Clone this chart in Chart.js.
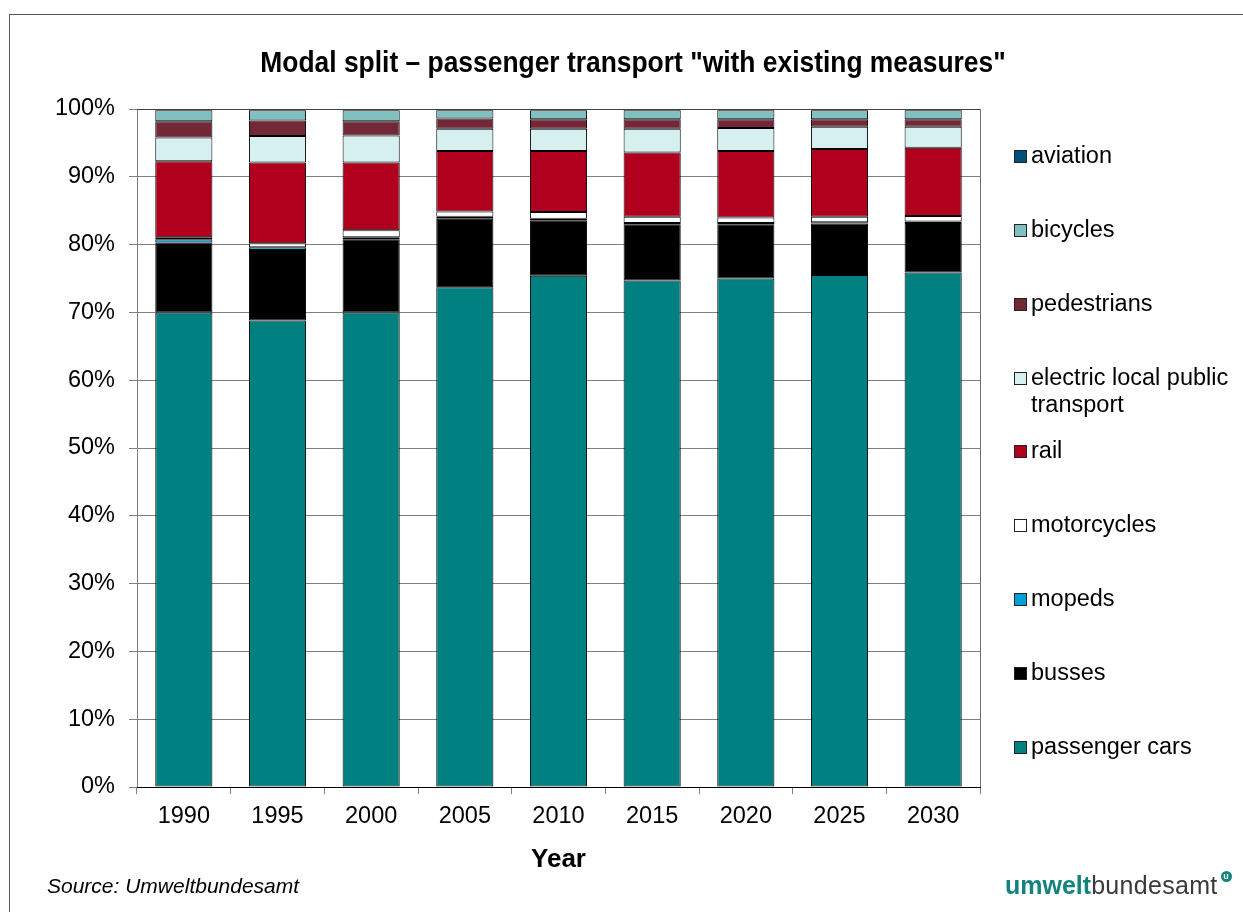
<!DOCTYPE html>
<html><head><meta charset="utf-8">
<script src="https://cdn.jsdelivr.net/npm/chart.js@4.4.0/dist/chart.umd.min.js"></script>
<style>
html,body{margin:0;padding:0;background:#fff;}
#wrap{position:relative;width:1243px;height:912px;overflow:hidden;font-family:'Liberation Sans',Arial,sans-serif;color:#000;}
#frame{position:absolute;left:9px;top:14px;width:1400px;height:1000px;border:1px solid #555;box-sizing:border-box;}
#c{position:absolute;left:0;top:0;}
#title{position:absolute;left:633px;top:46px;font-weight:bold;font-size:30px;line-height:32px;white-space:nowrap;transform:translateX(-50%) scaleX(0.88);}
#legend{position:absolute;left:0;top:0;}
.li{position:absolute;left:1014px;font-size:23.5px;line-height:27px;white-space:nowrap;}
.mk{position:absolute;left:0;top:8px;width:11px;height:11px;border:1px solid #222;}
.tx{position:absolute;left:17px;top:0;}
#source{position:absolute;left:47px;top:873px;font-style:italic;font-size:21px;line-height:26px;}
#logo{position:absolute;left:1005px;top:870px;font-size:25px;line-height:30px;white-space:nowrap;}
#logo .a{color:#12837d;font-weight:bold;}
#logo .b{color:#3a3a3a;font-weight:normal;letter-spacing:0.3px;}
#logo .c{display:inline-block;width:11px;height:11px;border-radius:50%;background:#12837d;color:#fff;font-size:9px;line-height:11px;text-align:center;vertical-align:top;margin-left:3px;margin-top:1px;font-weight:bold;}
</style></head>
<body>
<div id="wrap">
  <div id="frame"></div>
  <canvas id="c" width="1243" height="912"></canvas>
  <div id="title">Modal split – passenger transport "with existing measures"</div>
  <div id="legend"></div>
  <div id="source">Source: Umweltbundesamt</div>
  <div id="logo"><span class="a">umwelt</span><span class="b">bundesamt</span><span class="c">u</span></div>
</div>
<script>
const years = ['1990','1995','2000','2005','2010','2015','2020','2025','2030'];
const passengerCars = [70.0, 68.8, 70.0, 73.7, 75.4, 74.7, 75.0, 75.5, 75.9];
const busses        = [10.3, 10.4, 10.8, 10.1,  8.2,  8.3,  8.0,  7.6,  7.3];
const mopeds        = [ 0.5,  0.4,  0.3,  0.3,  0.2,  0.2,  0.2,  0.2,  0.2];
const motorcycles   = [ 0.3,  0.6,  1.0,  0.8,  1.0,  0.9,  0.8,  0.8,  0.8];
const rail          = [11.2, 11.9, 10.0,  8.9,  9.0,  9.5,  9.8, 10.0, 10.1];
const electricLocal = [ 3.5,  3.9,  4.0,  3.3,  3.3,  3.5,  3.4,  3.3,  3.1];
const pedestrians   = [ 2.4,  2.3,  2.1,  1.5,  1.4,  1.4,  1.3,  1.1,  1.1];
const bicycles      = [ 1.6,  1.5,  1.6,  1.2,  1.3,  1.3,  1.3,  1.3,  1.3];
const aviation      = [ 0.2,  0.2,  0.2,  0.2,  0.2,  0.2,  0.2,  0.2,  0.2];
const yTickValues = [0,10,20,30,40,50,60,70,80,90,100];

const seriesNames = ['passenger cars','busses','mopeds','motorcycles','rail','electric local public transport','pedestrians','bicycles','aviation'];
const legendLines = [['passenger cars'],['busses'],['mopeds'],['motorcycles'],['rail'],['electric local public','transport'],['pedestrians'],['bicycles'],['aviation']];
const seriesData = [passengerCars,busses,mopeds,motorcycles,rail,electricLocal,pedestrians,bicycles,aviation];
const seriesColors = ['#008080','#000000','#00A0DC','#FFFFFF','#B0001E','#D6EFEF','#722837','#80C0C0','#00507A'];

const datasets = seriesNames.map((n,i)=>({
  label:n, data:seriesData[i], backgroundColor:seriesColors[i],
  borderColor:'#000', borderWidth:1, borderSkipped:false,
  barPercentage:0.61, categoryPercentage:1.0
}));

const plotBorder = {
  id:'plotBorder',
  afterDraw(chart){
    const a = chart.chartArea, ctx = chart.ctx;
    ctx.save();
    ctx.strokeStyle = '#707070'; ctx.lineWidth = 1;
    ctx.beginPath();
    ctx.moveTo(Math.round(a.right)+0.5, a.top);
    ctx.lineTo(Math.round(a.right)+0.5, a.bottom);
    ctx.stroke();
    ctx.strokeStyle = '#404040';
    ctx.beginPath();
    ctx.moveTo(a.left, Math.round(a.top)+0.5);
    ctx.lineTo(a.right, Math.round(a.top)+0.5);
    ctx.stroke();
    ctx.strokeStyle = '#000';
    ctx.beginPath();
    ctx.moveTo(a.left, Math.round(a.bottom)+0.5);
    ctx.lineTo(a.right, Math.round(a.bottom)+0.5);
    ctx.stroke();
    ctx.restore();
  }
};

Chart.defaults.font.family = "'Liberation Sans', Arial, sans-serif";
Chart.defaults.color = '#000';

new Chart(document.getElementById('c'), {
  type:'bar',
  data:{labels:years, datasets},
  options:{
    responsive:false, animation:false,
    layout:{padding:{left:0, top:109, right:263, bottom:37}},
    plugins:{legend:{display:false}, title:{display:false}, tooltip:{enabled:false}},
    scales:{
      x:{
        stacked:true,
        grid:{display:true, drawOnChartArea:false, drawTicks:true, tickLength:7, offset:true, color:'#808080'},
        border:{display:true, color:'#000'},
        ticks:{font:{size:23.5}, padding:8, color:'#000', maxRotation:0},
        title:{display:true, text:'Year', font:{size:26, weight:'bold'}, padding:{top:0,bottom:0}, color:'#000'},
        afterFit(s){ s.height = 88; }
      },
      y:{
        stacked:true, min:0, max:100,
        afterBuildTicks(s){ s.ticks = yTickValues.map(v=>({value:v})); },
        grid:{color:'#808080', tickLength:8, drawTicks:true},
        border:{display:true, color:'#808080'},
        ticks:{font:{size:23.5}, padding:14, color:'#000', callback:v=>v+'%'},
        afterFit(s){ s.width = 137; }
      }
    }
  },
  plugins:[plotBorder]
});

const leg = document.getElementById('legend');
const centers = [746,672,598,524,450,377,303,229,155];
seriesNames.forEach((n,i)=>{
  const d = document.createElement('div');
  d.className='li';
  d.style.top = (centers[i]-13.5)+'px';
  d.innerHTML = '<div class="mk" style="background:'+seriesColors[i]+'"></div><div class="tx">'+legendLines[i].join('<br>')+'</div>';
  leg.appendChild(d);
});
</script>
</body></html>
